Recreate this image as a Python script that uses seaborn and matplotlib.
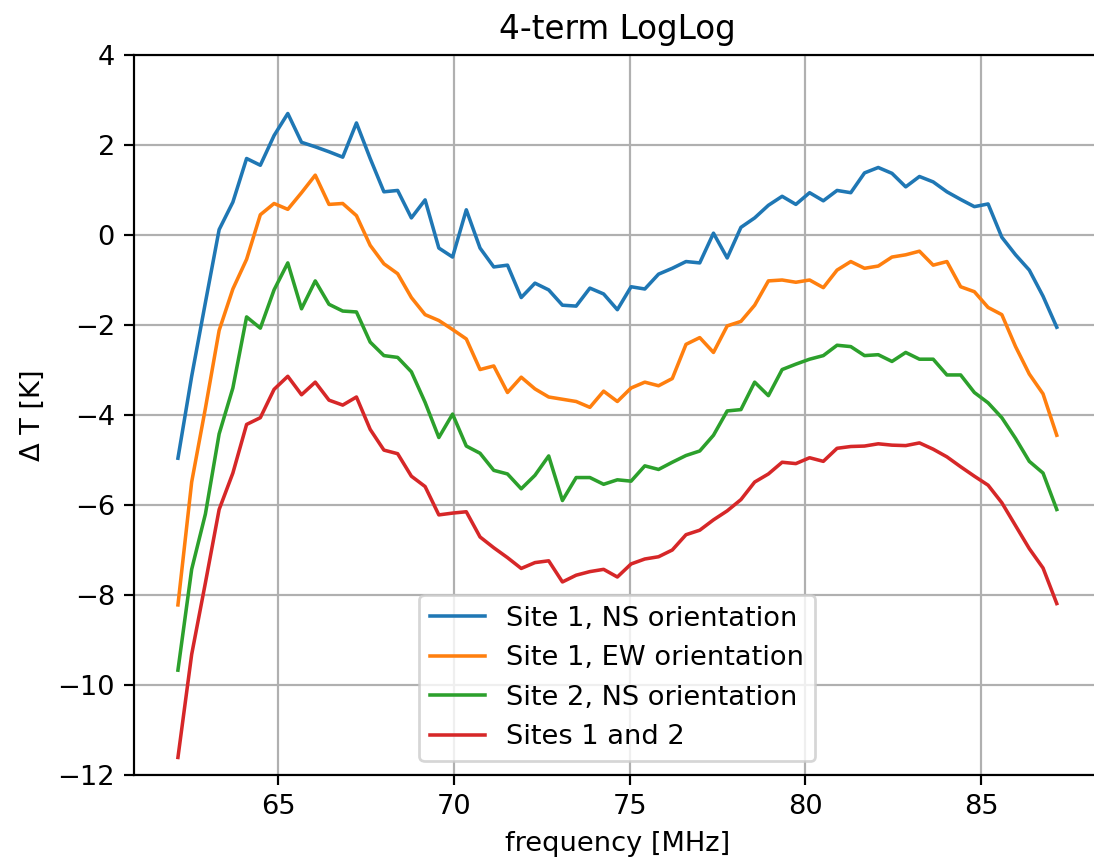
import numpy as np
import pandas as pd
import matplotlib
matplotlib.use("Agg")
import matplotlib.pyplot as plt
import seaborn as sns

# Frequency grid of the residuals (MHz): 65 channels, uniform spacing
f_start = 62.15
f_step = 0.390625
n_chan = 65
freq = f_start + f_step * np.arange(n_chan)

# Residual temperature after 4-term LogLog fit (K)
site1_ns = [-4.96, -3.14, -1.50, 0.12, 0.73, 1.70, 1.55, 2.21, 2.70, 2.06,
            1.96, 1.85, 1.73, 2.49, 1.70, 0.96, 0.99, 0.38, 0.78, -0.29,
            -0.49, 0.56, -0.29, -0.71, -0.67, -1.39, -1.07, -1.22, -1.56, -1.58,
            -1.18, -1.31, -1.66, -1.15, -1.20, -0.87, -0.74, -0.59, -0.62, 0.04,
            -0.51, 0.17, 0.38, 0.66, 0.86, 0.68, 0.94, 0.76, 0.99, 0.94,
            1.38, 1.50, 1.37, 1.07, 1.30, 1.18, 0.96, 0.79, 0.63, 0.69,
            -0.05, -0.44, -0.78, -1.36, -2.05]

site1_ew = [-8.22, -5.49, -3.85, -2.12, -1.20, -0.54, 0.45, 0.70, 0.57, 0.94,
            1.33, 0.68, 0.70, 0.43, -0.23, -0.64, -0.86, -1.39, -1.77, -1.90,
            -2.10, -2.31, -2.99, -2.91, -3.50, -3.16, -3.42, -3.60, -3.65, -3.70,
            -3.83, -3.47, -3.70, -3.40, -3.27, -3.35, -3.19, -2.43, -2.28, -2.61,
            -2.02, -1.92, -1.56, -1.02, -1.00, -1.05, -1.00, -1.17, -0.78, -0.59,
            -0.74, -0.69, -0.49, -0.44, -0.36, -0.67, -0.59, -1.15, -1.26, -1.61,
            -1.77, -2.48, -3.09, -3.53, -4.45]

site2_ns = [-9.67, -7.43, -6.20, -4.42, -3.40, -1.82, -2.07, -1.22, -0.62, -1.64,
            -1.02, -1.54, -1.69, -1.71, -2.38, -2.68, -2.72, -3.04, -3.72, -4.50,
            -3.98, -4.69, -4.85, -5.23, -5.31, -5.64, -5.34, -4.91, -5.90, -5.39,
            -5.39, -5.54, -5.44, -5.47, -5.13, -5.21, -5.05, -4.90, -4.80, -4.45,
            -3.91, -3.88, -3.27, -3.57, -2.99, -2.87, -2.76, -2.68, -2.45, -2.48,
            -2.68, -2.66, -2.81, -2.61, -2.76, -2.76, -3.11, -3.11, -3.50, -3.73,
            -4.06, -4.52, -5.03, -5.29, -6.10]

sites_1_2 = [-11.61, -9.32, -7.73, -6.10, -5.29, -4.21, -4.06, -3.43, -3.14, -3.55,
             -3.27, -3.67, -3.78, -3.60, -4.32, -4.78, -4.86, -5.36, -5.59, -6.22,
             -6.18, -6.15, -6.71, -6.95, -7.17, -7.41, -7.28, -7.24, -7.71, -7.56,
             -7.48, -7.43, -7.60, -7.31, -7.20, -7.15, -7.00, -6.66, -6.56, -6.33,
             -6.13, -5.88, -5.49, -5.31, -5.05, -5.08, -4.95, -5.03, -4.74, -4.70,
             -4.69, -4.64, -4.67, -4.68, -4.62, -4.76, -4.93, -5.15, -5.36, -5.56,
             -5.95, -6.46, -6.97, -7.40, -8.19]

series_labels = ["Site 1, NS orientation", "Site 1, EW orientation",
                 "Site 2, NS orientation", "Sites 1 and 2"]
series_values = [site1_ns, site1_ew, site2_ns, sites_1_2]
colors = sns.color_palette("tab10", 4)

df = pd.DataFrame({"freq": freq})
for lab, vals in zip(series_labels, series_values):
    df[lab] = vals

dpi = 196
W, H = 1094, 863
fig = plt.figure(figsize=(W / dpi, H / dpi), dpi=dpi)
ax = fig.add_axes([134 / W, 88 / H, 966.7 / W, 720 / H])

for lab, col in zip(series_labels, colors):
    sns.lineplot(data=df, x="freq", y=lab, ax=ax, color=col, label=lab,
                 linewidth=1.3)

ax.set_ylim(-12, 4)
ax.set_yticks(np.arange(-12, 5, 2))
ax.set_xticks([65, 70, 75, 80, 85])
ax.grid(True, color="#b0b0b0", linewidth=0.8)
ax.set_xlabel("frequency [MHz]")
ax.set_ylabel("Δ T [K]")
ax.set_title("4-term LogLog")
ax.legend(loc="lower center")

fig.savefig("out.png", dpi=dpi)
